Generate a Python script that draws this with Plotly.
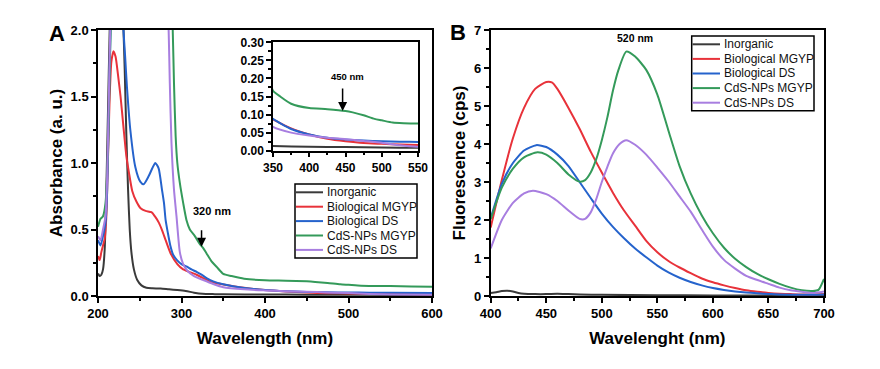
import plotly.graph_objects as go

# the page body has an 8px default margin, so the figure is drawn 8px in from the window corner
OFF = 8
W, H = 880 - OFF, 369 - OFF
FONT = "Liberation Sans"

names = ["Inorganic", "Biological MGYP", "Biological DS", "CdS-NPs MGYP", "CdS-NPs DS"]
colors = ["#3a3a3a", "#e8323a", "#2563cc", "#349a5a", "#a87ee0"]

# ---------------- Panel A: absorbance ----------------
a_inorg_x = [200, 202, 204, 206, 208, 210, 212, 214, 216, 228, 230, 232, 234, 236, 238, 240, 243, 247, 252, 258,
             265, 275, 285, 295, 305, 315, 325, 340, 350, 400, 450, 500, 550, 600]
a_inorg_y = [0.17, 0.15, 0.16, 0.2, 0.35, 0.8, 1.4, 2.0, 2.4, 2.4, 2.1, 1.7, 1.2, 0.8, 0.5, 0.33, 0.2, 0.12, 0.08, 0.062,
             0.058, 0.056, 0.05, 0.045, 0.038, 0.025, 0.016, 0.014, 0.013, 0.011, 0.01, 0.009, 0.008, 0.007]

a_biomg_x = [200, 202, 204, 206, 208, 210, 212, 214, 216, 218.5, 221, 224, 227, 230.5, 234, 237, 241, 246, 251, 257,
             264, 268, 273, 277, 281, 287, 295, 302, 310, 318, 326, 335, 350, 375, 400, 425, 450, 475, 500, 525, 550, 600]
a_biomg_y = [0.3, 0.27, 0.33, 0.38, 0.43, 0.6, 1.05, 1.5, 1.76, 1.84, 1.8, 1.66, 1.5, 1.27, 1.05, 0.93, 0.79, 0.71, 0.66, 0.64,
             0.63, 0.6, 0.55, 0.49, 0.42, 0.32, 0.24, 0.2, 0.18, 0.16, 0.135, 0.105, 0.087, 0.062, 0.045, 0.033, 0.026, 0.021,
             0.019, 0.017, 0.016, 0.014]

a_biods_x = [200, 203, 206, 209, 211, 213, 215, 217, 228, 230.5, 232.5, 234.7, 238.7, 244.7, 250.6, 254.6, 260.6, 265,
             268.6, 272.6, 276.6, 279, 281, 283.5, 286.6, 290, 294.6, 300, 306.5, 312, 318.5, 324, 330.5, 338, 350, 375,
             400, 425, 450, 475, 500, 525, 550, 600]
a_biods_y = [0.42, 0.38, 0.45, 0.55, 0.8, 1.4, 2.0, 2.4, 2.4, 2.0, 1.8, 1.57, 1.25, 0.97, 0.86, 0.84, 0.9, 0.96,
             1.0, 0.96, 0.8, 0.7, 0.57, 0.48, 0.38, 0.31, 0.27, 0.24, 0.22, 0.2, 0.18, 0.16, 0.133, 0.11, 0.088, 0.06,
             0.045, 0.036, 0.031, 0.028, 0.026, 0.025, 0.024, 0.022]

a_cdsmg_x = [200, 203, 206, 209, 212, 214, 216, 218, 287, 289.5, 291, 293, 295, 298, 302, 306, 310, 316, 322, 326,
             330, 336, 342, 350, 360, 375, 400, 425, 450, 460, 475, 490, 500, 515, 530, 550, 575, 600]
a_cdsmg_y = [0.52, 0.58, 0.6, 0.7, 1.1, 1.7, 2.2, 2.4, 2.4, 2.0, 1.6, 1.2, 1.0, 0.85, 0.7, 0.57, 0.5, 0.45, 0.39, 0.36,
             0.32, 0.26, 0.22, 0.166, 0.15, 0.13, 0.118, 0.115, 0.11, 0.106, 0.098, 0.088, 0.084, 0.078, 0.076, 0.075,
             0.072, 0.07]

a_cdsds_x = [200, 203, 206, 209, 211, 213, 215, 217, 282, 284.6, 286, 288, 291, 294, 298, 302, 307, 315, 326, 338,
             350, 375, 400, 425, 450, 475, 500, 525, 550, 600]
a_cdsds_y = [0.45, 0.42, 0.5, 0.6, 0.9, 1.5, 2.1, 2.4, 2.4, 2.0, 1.6, 1.15, 0.8, 0.6, 0.33, 0.24, 0.19, 0.15, 0.12, 0.09,
             0.066, 0.05, 0.042, 0.036, 0.032, 0.027, 0.022, 0.015, 0.011, 0.01]

# ---------------- Panel B: fluorescence ----------------
b_inorg_x = [400, 405, 410, 415, 420, 425, 430, 440, 450, 460, 470, 480, 500, 550, 600, 650, 700]
b_inorg_y = [0.08, 0.1, 0.13, 0.14, 0.12, 0.08, 0.06, 0.05, 0.05, 0.06, 0.05, 0.04, 0.03, 0.02, 0.015, 0.01, 0.01]

b_biomg_x = [400, 410, 420, 430, 440, 450, 455, 460, 470, 480, 490, 500, 510, 520, 530, 540, 550, 560, 570, 580, 590,
             600, 610, 620, 630, 640, 650, 660, 670, 680, 690, 700]
b_biomg_y = [1.8, 3.05, 4.15, 4.95, 5.45, 5.63, 5.62, 5.45, 4.95, 4.4, 3.8, 3.25, 2.72, 2.25, 1.85, 1.45, 1.15, 0.92,
             0.75, 0.6, 0.46, 0.36, 0.28, 0.21, 0.15, 0.11, 0.08, 0.06, 0.05, 0.04, 0.04, 0.05]

b_biods_x = [400, 410, 420, 430, 441, 450, 460, 470, 480, 490, 500, 510, 520, 530, 540, 550, 560, 570, 580, 590, 600,
             610, 620, 630, 640, 650, 660, 680, 700]
b_biods_y = [2.05, 2.95, 3.5, 3.83, 3.97, 3.92, 3.72, 3.42, 3.0, 2.58, 2.17, 1.82, 1.52, 1.25, 1.02, 0.8, 0.62, 0.48,
             0.37, 0.28, 0.21, 0.16, 0.12, 0.09, 0.07, 0.055, 0.04, 0.03, 0.04]

b_cdsmg_x = [400, 410, 420, 430, 442, 450, 460, 470, 480, 485, 490, 495, 500, 505, 510, 515, 522, 530, 540, 550, 560,
             570, 580, 590, 600, 610, 620, 630, 640, 650, 660, 670, 680, 690, 695, 700]
b_cdsmg_y = [2.02, 2.85, 3.35, 3.65, 3.78, 3.72, 3.5, 3.2, 3.01, 3.05, 3.25, 3.6, 4.1, 4.7, 5.4, 5.95, 6.43, 6.3, 5.95,
             5.3, 4.35, 3.42, 2.7, 2.12, 1.65, 1.27, 0.98, 0.76, 0.58, 0.44, 0.32, 0.22, 0.15, 0.13, 0.16, 0.45]

b_cdsds_x = [400, 410, 420, 430, 438, 450, 460, 470, 480, 485, 490, 495, 500, 505, 510, 516, 522, 530, 540, 550, 560,
             570, 580, 590, 600, 610, 620, 630, 640, 650, 660, 670, 680, 690, 700]
b_cdsds_y = [1.25, 2.0, 2.45, 2.7, 2.77, 2.68, 2.5, 2.25, 2.03, 2.03, 2.2, 2.55, 3.0, 3.4, 3.75, 4.0, 4.1, 3.98, 3.72,
             3.38, 3.02, 2.62, 2.22, 1.75, 1.3, 0.95, 0.72, 0.53, 0.42, 0.32, 0.22, 0.15, 0.11, 0.08, 0.12]

a_series = [(a_inorg_x, a_inorg_y), (a_biomg_x, a_biomg_y), (a_biods_x, a_biods_y),
            (a_cdsmg_x, a_cdsmg_y), (a_cdsds_x, a_cdsds_y)]
b_series = [(b_inorg_x, b_inorg_y), (b_biomg_x, b_biomg_y), (b_biods_x, b_biods_y),
            (b_cdsmg_x, b_cdsmg_y), (b_cdsds_x, b_cdsds_y)]

fig = go.Figure()
for (x, y), n, c in zip(a_series, names, colors):
    fig.add_trace(go.Scatter(x=x, y=y, name=n, mode="lines", line=dict(color=c, width=2, shape="spline", smoothing=0.6),
                             xaxis="x", yaxis="y", showlegend=False))
for (x, y), n, c in zip(a_series, names, colors):
    fig.add_trace(go.Scatter(x=x, y=y, name=n, mode="lines", line=dict(color=c, width=2, shape="spline", smoothing=0.6),
                             xaxis="x2", yaxis="y2", showlegend=False))
for (x, y), n, c in zip(b_series, names, colors):
    fig.add_trace(go.Scatter(x=x, y=y, name=n, mode="lines", line=dict(color=c, width=2, shape="spline", smoothing=0.6),
                             xaxis="x3", yaxis="y3", showlegend=False))


def px(x):
    return (x - OFF) / W


def py(y):
    return 1 - (y - OFF) / H


def ax(domain, rng, dtick, mdtick, anchor, fmt=None, title=None, standoff=None, tsize=13, lw=1.5):
    d = dict(domain=domain, range=rng, anchor=anchor, tick0=rng[0], dtick=dtick, ticks="outside", ticklen=5,
             tickwidth=lw, tickcolor="black", linecolor="black", linewidth=lw, mirror=True, showgrid=False,
             zeroline=False, automargin=False,
             tickfont=dict(family=FONT, size=tsize, color="black", weight="bold"),
             minor=dict(ticks="outside", ticklen=3, dtick=mdtick, tick0=rng[0], tickwidth=lw, tickcolor="black"))
    if fmt:
        d["tickformat"] = fmt
    if title:
        d["title"] = dict(text=title, font=dict(family=FONT, size=17, color="black", weight="bold"),
                          standoff=standoff)
    return d


yd = [py(296), py(30)]
fig.update_layout(
    template="none",
    width=W, height=H, margin=dict(l=0, r=0, t=0, b=0, pad=0),
    paper_bgcolor="white", plot_bgcolor="white",
    xaxis=ax([px(98), px(432)], [200, 600], 100, 50, "y", title="Wavelength (nm)", standoff=12),
    yaxis=ax(yd, [0, 2], 0.5, 0.25, "x", fmt=".1f", title="Absorbance (a. u.)", standoff=4),
    xaxis2=ax([px(273), px(418)], [350, 550], 50, 25, "y2", tsize=12),
    yaxis2=ax([py(150.7), py(42.3)], [0, 0.30], 0.05, 0.025, "x2", fmt=".2f", tsize=12),
    xaxis3=ax([px(490.7), px(824)], [400, 700], 50, 25, "y3", title="Wavelenght (nm)", standoff=12),
    yaxis3=ax(yd, [0, 7], 1, 0.5, "x3", title="Fluorescence (cps)", standoff=4),
)


def label(text, x, y, size, bold=True):
    return dict(text=f"<b>{text}</b>" if bold else text, x=px(x), y=py(y), xref="paper", yref="paper",
                xanchor="center", yanchor="middle", showarrow=False,
                font=dict(family=FONT, size=size, color="black"))


annotations = [
    label("A", 57, 33, 22),
    label("B", 458, 32, 22),
    # 320 nm
    dict(text="", x=324, y=0.37, xref="x", yref="y", showarrow=True, ax=0, ay=-18,
         arrowhead=2, arrowsize=1.2, arrowwidth=1.5, arrowcolor="black"),
    label("320 nm", 212, 211, 11),
    # 450 nm (inset)
    dict(text="", x=446, y=0.11, xref="x2", yref="y2", showarrow=True, ax=0, ay=-24,
         arrowhead=2, arrowsize=1.2, arrowwidth=1.5, arrowcolor="black"),
    label("450 nm", 347, 77, 9.5),
    # 520 nm
    label("520 nm", 635, 38, 10.5),
]

shapes = []


def legend(x0, y0, x1, y1, row0, step, lx0, lx1, tx):
    shapes.append(dict(type="rect", xref="paper", yref="paper", x0=px(x0), x1=px(x1), y0=py(y1), y1=py(y0),
                       line=dict(color="black", width=1.5), fillcolor="white", layer="above"))
    for i, (n, c) in enumerate(zip(names, colors)):
        yy = row0 + i * step
        shapes.append(dict(type="line", xref="paper", yref="paper", x0=px(lx0), x1=px(lx1), y0=py(yy), y1=py(yy),
                           line=dict(color=c, width=2), layer="above"))
        annotations.append(dict(text=n, x=px(tx), y=py(yy), xref="paper", yref="paper", xanchor="left",
                                yanchor="middle", showarrow=False,
                                font=dict(family=FONT, size=12, color="#111")))


legend(295, 184, 417, 258, 192.3, 14.4, 296, 323, 325)
legend(691.7, 36, 814, 110.7, 44.3, 14.6, 692.5, 720, 722)

fig.update_layout(annotations=annotations, shapes=shapes)
fig.write_html("out.html")
